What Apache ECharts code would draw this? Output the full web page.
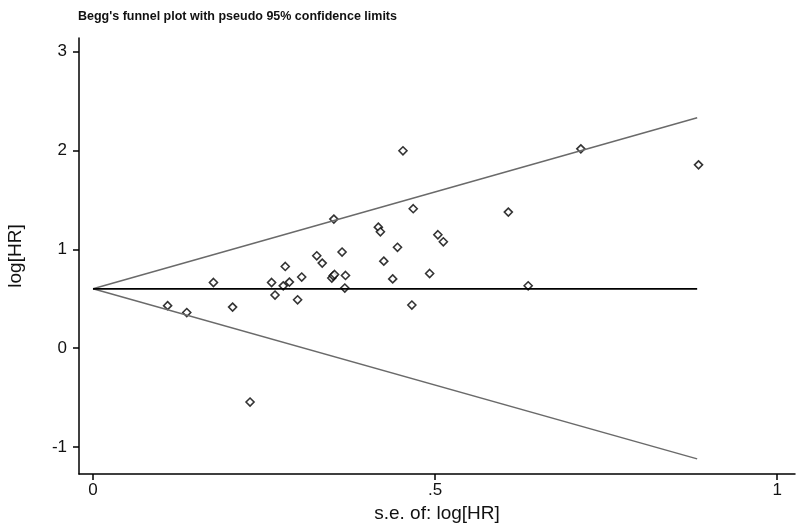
<!DOCTYPE html>
<html>
<head>
<meta charset="utf-8">
<script src="https://cdn.jsdelivr.net/npm/echarts@6/dist/echarts.min.js"></script>
<style>
html,body{margin:0;padding:0;background:#fff;}
#chart{width:800px;height:527px;}
</style>
</head>
<body>
<div id="chart"></div>
<script>
// Study standard errors (x) and log hazard ratios (y)
const studySE = [0.109,0.137,0.176,0.204,0.2295,0.261,0.266,0.278,0.281,0.287,0.299,0.305,0.327,0.335,0.349,0.351,0.353,0.352,0.364,0.369,0.368,0.417,0.420,0.425,0.438,0.445,0.453,0.466,0.468,0.492,0.504,0.512,0.607,0.636,0.713,0.885];
const studyLogHR = [0.43,0.36,0.664,0.415,-0.545,0.664,0.537,0.63,0.826,0.668,0.489,0.719,0.934,0.86,0.709,0.732,0.745,1.305,0.972,0.735,0.608,1.224,1.177,0.88,0.70,1.02,1.996,0.436,1.41,0.755,1.147,1.076,1.376,0.631,2.016,1.854];
// Funnel lines (pseudo 95% limits) and pooled estimate
const limitSE = [0, 0.883];
const upperLimit = [0.6, 2.33];
const lowerLimit = [0.6, -1.12];
const pooled = [0.6, 0.6];
// Tick labels
const xTicks = [0, 0.5, 1];
const xTickLabels = ['0', '.5', '1'];
const yTicks = [-1, 0, 1, 2, 3];
const yTickLabels = ['-1', '0', '1', '2', '3'];

const font = '"Liberation Sans", Arial, sans-serif';
const chart = echarts.init(document.getElementById('chart'));
const pts = studySE.map((s, i) => [s, studyLogHR[i]]);
const pair = (a) => limitSE.map((s, i) => [s, a[i]]);

chart.setOption({
  animation: false,
  backgroundColor: '#fff',
  title: {
    text: "Begg's funnel plot with pseudo 95% confidence limits",
    left: 73, top: 5,
    textStyle: {fontFamily: font, fontSize: 12.5, fontWeight: 'bold', color: '#111'}
  },
  grid: {left: 79, right: 5, top: 38, bottom: 53, outerBoundsMode: 'none', containLabel: false},
  xAxis: {
    type: 'value', min: -0.0205, max: 1.026,
    name: 's.e. of: log[HR]', nameLocation: 'middle', nameGap: 30,
    nameTextStyle: {fontFamily: font, fontSize: 19, color: '#111'},
    axisLine: {show: true, onZero: false, lineStyle: {color: '#000', width: 1.5}},
    axisTick: {show: true, length: 6, customValues: xTicks, lineStyle: {color: '#000', width: 1.5}},
    axisLabel: {customValues: xTicks, margin: 8, fontFamily: font, fontSize: 17, color: '#111',
      formatter: (v) => xTickLabels[xTicks.indexOf(v)] ?? ''},
    splitLine: {show: false}
  },
  yAxis: {
    type: 'value', min: -1.273, max: 3.137,
    name: 'log[HR]', nameLocation: 'middle', nameGap: 54, nameRotate: 90,
    nameTextStyle: {fontFamily: font, fontSize: 19, color: '#111'},
    axisLine: {show: true, onZero: false, lineStyle: {color: '#000', width: 1.5}},
    axisTick: {show: true, length: 6, customValues: yTicks, lineStyle: {color: '#000', width: 1.5}},
    axisLabel: {customValues: yTicks, margin: 12, fontFamily: font, fontSize: 17, color: '#111',
      formatter: (v) => yTickLabels[yTicks.indexOf(v)] ?? ''},
    splitLine: {show: false}
  },
  series: [
    {type: 'line', data: pair(upperLimit), symbol: 'none', lineStyle: {color: '#6a6a6a', width: 1.5}},
    {type: 'line', data: pair(lowerLimit), symbol: 'none', lineStyle: {color: '#6a6a6a', width: 1.5}},
    {type: 'line', data: pair(pooled), symbol: 'none', lineStyle: {color: '#000', width: 1.8}},
    {type: 'scatter', data: pts, symbol: 'diamond', symbolSize: 8,
      itemStyle: {color: '#fff', borderColor: '#000', borderWidth: 1.6}}
  ]
});
</script>
</body>
</html>
